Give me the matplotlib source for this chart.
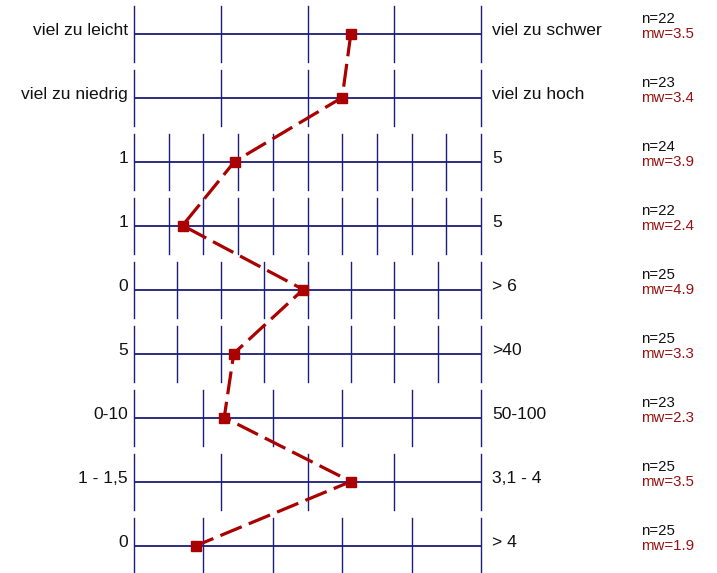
import matplotlib
matplotlib.use("Agg")
import matplotlib.pyplot as plt

left_labels = ["viel zu leicht", "viel zu niedrig", "1", "1", "0", "5", "0-10", "1 - 1,5", "0"]
right_labels = ["viel zu schwer", "viel zu hoch", "5", "5", "> 6", ">40", "50-100", "3,1 - 4", "> 4"]
n_ticks = [5, 5, 11, 11, 9, 9, 6, 5, 6]
means = [3.5, 3.4, 3.9, 2.4, 4.9, 3.3, 2.3, 3.5, 1.9]
counts = [22, 23, 24, 22, 25, 25, 23, 25, 25]

W, H = 717, 573
x0, x1 = 134.0, 481.0
row0, row_step = 33.5, 64.0

plt.rcParams['font.family'] = ['Liberation Sans', 'DejaVu Sans']
fig = plt.figure(figsize=(W / 100, H / 100), dpi=100)
ax = fig.add_axes([x0 / W, 0, (x1 - x0) / W, 1])
ax.set_xlim(0, 1)
ax.set_ylim((H - row0) / row_step, -row0 / row_step)
ax.axis("off")

navy = "#1c1c7c"
red = "#aa0000"
txt_red = "#9a1010"
half = 28 / row_step
px = 1.0 / (x1 - x0)
py = 1.0 / row_step

xs, ys = [], []
for i in range(len(means)):
    nt = n_ticks[i]
    ax.plot([0, 1], [i, i], color=navy, lw=1.3, solid_capstyle="butt", zorder=2)
    for k in range(nt):
        xf = k / (nt - 1)
        ax.plot([xf, xf], [i - half, i + half], color=navy, lw=1.0, zorder=2, clip_on=False)
    xs.append((means[i] - 1) / (nt - 1))
    ys.append(i)
    ax.text(-6 * px, i + 1.5 * py, left_labels[i], ha="right", va="baseline", fontsize=12.6, color="#111111")
    ax.text(1 + 11 * px, i + 1.5 * py, right_labels[i], ha="left", va="baseline", fontsize=12.6, color="#111111")
    ax.text(1 + 160 * px, i - 10.5 * py, f"n={counts[i]}", ha="left", va="baseline", fontsize=10.8, color="#111111")
    ax.text(1 + 160 * px, i + 5.0 * py, f"mw={means[i]}", ha="left", va="baseline", fontsize=10.8, color=txt_red)

ax.plot(xs, ys, color=red, lw=2.3, dashes=(7.2, 2.4), dash_capstyle="butt", zorder=3, clip_on=False)
ax.plot(xs, ys, ls="none", marker="s", ms=6.8, color=red, zorder=4, clip_on=False)

fig.savefig("out.png", dpi=100)
